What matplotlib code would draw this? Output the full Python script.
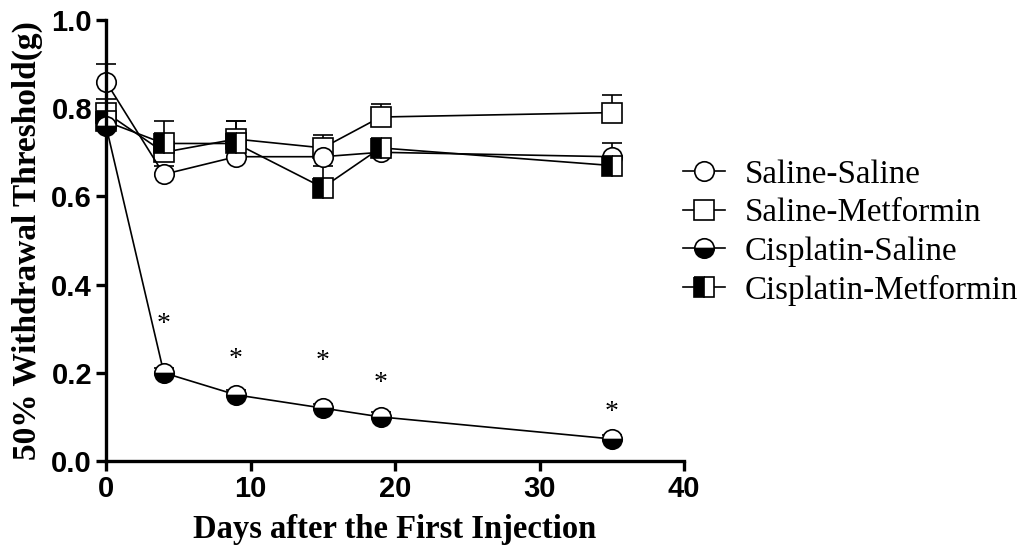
import matplotlib
matplotlib.use("Agg")
import matplotlib.pyplot as plt
from matplotlib.lines import Line2D

# Jours de mesure
days = [0, 4, 9, 15, 19, 35]

# Moyennes par groupe
saline_saline = [0.86, 0.65, 0.69, 0.69, 0.70, 0.69]
saline_metformin = [0.79, 0.70, 0.73, 0.71, 0.78, 0.79]
cisplatin_saline = [0.76, 0.20, 0.15, 0.12, 0.10, 0.05]
cisplatin_metformin = [0.77, 0.72, 0.72, 0.62, 0.71, 0.67]

# Erreurs (barres vers le haut seulement)
err_saline_saline = [0.04, 0.02, 0.02, 0.02, 0.01, 0.03]
err_saline_metformin = [0.03, 0.03, 0.04, 0.03, 0.03, 0.04]
err_cisplatin_saline = [0.01, 0.01, 0.01, 0.01, 0.01, 0.01]
err_cisplatin_metformin = [0.03, 0.05, 0.05, 0.05, 0.02, 0.02]

# Étoiles de significativité
star_days = [4, 9, 15, 19, 35]
star_y = [0.31, 0.23, 0.225, 0.175, 0.11]

legend_labels = ["Saline-Saline", "Saline-Metformin", "Cisplatin-Saline", "Cisplatin-Metformin"]

fig = plt.figure(figsize=(10.23, 5.52), dpi=100)
ax = fig.add_axes([106 / 1023, 1 - 461 / 552, (684 - 106) / 1023, (461 - 20) / 552])

# Styles des marqueurs (ordre de la légende)
styles = [
    dict(marker='o', fillstyle='full', markerfacecolor='white'),
    dict(marker='s', fillstyle='full', markerfacecolor='white'),
    dict(marker='o', fillstyle='bottom', markerfacecolor='black', markerfacecoloralt='white'),
    dict(marker='s', fillstyle='left', markerfacecolor='black', markerfacecoloralt='white'),
]
values = [saline_saline, saline_metformin, cisplatin_saline, cisplatin_metformin]
errors = [err_saline_saline, err_saline_metformin, err_cisplatin_saline, err_cisplatin_metformin]

# ordre de dessin
for i in [1, 0, 3, 2]:
    vals, err = values[i], errors[i]
    eb = ax.errorbar(days, vals, yerr=[[0] * len(vals), err], color='black', lw=1.2,
                     elinewidth=1.2, capsize=7, capthick=1.2, markersize=14,
                     markeredgecolor='black', markeredgewidth=1.2, **styles[i])
    eb[0].set_clip_on(False)
    for c in eb[1]:
        c.set_clip_on(False)
    for c in eb[2]:
        c.set_clip_on(False)

for d, y in zip(star_days, star_y):
    ax.text(d, y, '*', ha='center', va='center', fontsize=20, family='Liberation Serif')

ax.set_xlim(0, 40)
ax.set_ylim(0, 1.0)
ax.set_xticks([0, 10, 20, 30, 40])
ax.set_yticks([0.0, 0.2, 0.4, 0.6, 0.8, 1.0])
ax.set_yticklabels(['0.0', '0.2', '0.4', '0.6', '0.8', '1.0'])
for s in ['top', 'right']:
    ax.spines[s].set_visible(False)
for s in ['left', 'bottom']:
    ax.spines[s].set_linewidth(2.4)
ax.tick_params(width=2.4, length=7, labelsize=21, pad=3)
for lab in ax.get_xticklabels() + ax.get_yticklabels():
    lab.set_family('Liberation Sans')
    lab.set_fontweight('bold')
ax.set_xlabel('Days after the First Injection', family='Liberation Serif',
              fontweight='bold', fontsize=23.5, labelpad=8)
ax.set_ylabel('50% Withdrawal Threshold(g)', family='Liberation Serif',
              fontweight='bold', fontsize=24, labelpad=6)
ax.patch.set_visible(False)

handles = [Line2D([], [], color='black', lw=1.2, markersize=14, markeredgecolor='black',
                  markeredgewidth=1.2, **st) for st in styles]
fig.legend(handles, legend_labels, loc='center left',
           bbox_to_anchor=(0.639, 0.579), frameon=False,
           prop={'family': 'Liberation Serif', 'size': 23.8},
           handlelength=1.25, labelspacing=0.24, handletextpad=0.6)

fig.savefig('out.png', dpi=100)
